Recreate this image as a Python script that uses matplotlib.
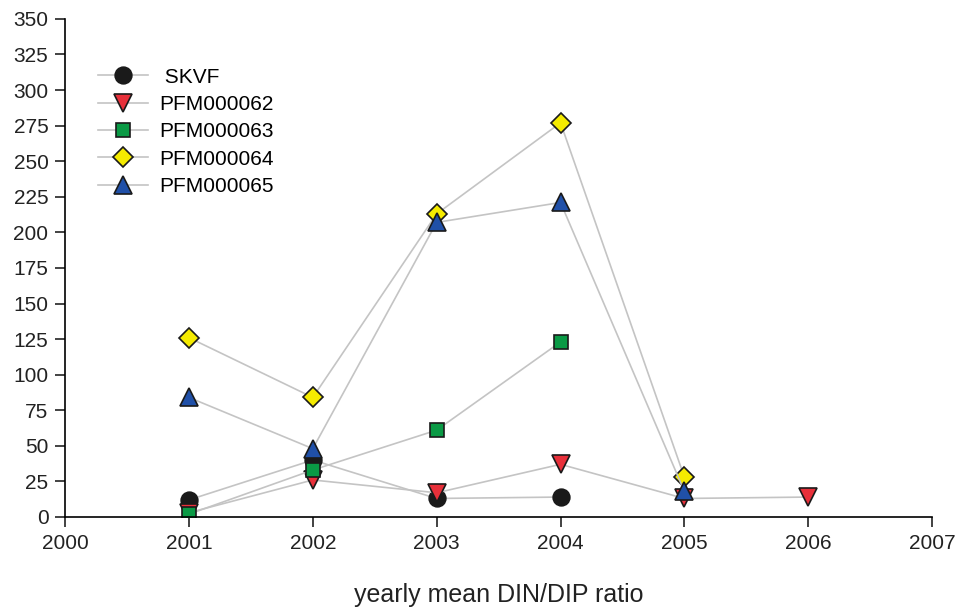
import numpy as np
import matplotlib.pyplot as plt

plt.rcParams['font.family'] = ['Liberation Sans', 'DejaVu Sans']

# Daten
years_skvf = [2001, 2002, 2003, 2004]
skvf = [12, 40, 13, 14]

years_62 = [2001, 2002, 2003, 2004, 2005, 2006]
pfm62 = [3, 26, 17, 37, 13, 14]

years_63 = [2001, 2002, 2003, 2004]
pfm63 = [2, 33, 61, 123]

years_64 = [2001, 2002, 2003, 2004, 2005]
pfm64 = [126, 84, 213, 277, 28]

years_65 = [2001, 2002, 2003, 2004, 2005]
pfm65 = [84, 48, 207, 221, 18]

fig = plt.figure(figsize=(9.57, 6.10), dpi=100)
ax = fig.add_axes([0.068, 0.1525, 0.906, 0.8165])

line_col = '#c4c4c4'
kw = dict(color=line_col, lw=1.2, markeredgecolor='#1a1a1a', markeredgewidth=1.2)

ax.plot(years_skvf, skvf, marker='o', ms=12, markerfacecolor='#1a1a1a', label=' SKVF', **kw)
ax.plot(years_62, pfm62, marker='v', ms=13, markerfacecolor='#e8303a', label='PFM000062', **kw)
ax.plot(years_63, pfm63, marker='s', ms=10.5, markerfacecolor='#0a9a45', label='PFM000063', **kw)
ax.plot(years_64, pfm64, marker='D', ms=10.5, markerfacecolor='#f5eb00', label='PFM000064', **kw)
ax.plot(years_65, pfm65, marker='^', ms=13, markerfacecolor='#2050a8', label='PFM000065', **kw)

ax.set_xlim(2000, 2007)
ax.set_ylim(0, 350)
ax.set_xticks(np.arange(2000, 2008, 1))
ax.set_yticks(np.arange(0, 351, 25))
ax.tick_params(direction='out', length=7, width=1.2, labelsize=15, colors='#222222', pad=5)
ax.spines['top'].set_visible(False)
ax.spines['right'].set_visible(False)
ax.spines['left'].set_linewidth(1.2)
ax.spines['bottom'].set_linewidth(1.2)

ax.set_xlabel('yearly mean DIN/DIP ratio', fontsize=18, labelpad=22, color='#222222')

ax.legend(loc='upper left', bbox_to_anchor=(0.016, 0.94), frameon=False, fontsize=15,
          handlelength=2.4, labelspacing=0.4, handletextpad=0.55)

plt.savefig('out.png', dpi=100)
